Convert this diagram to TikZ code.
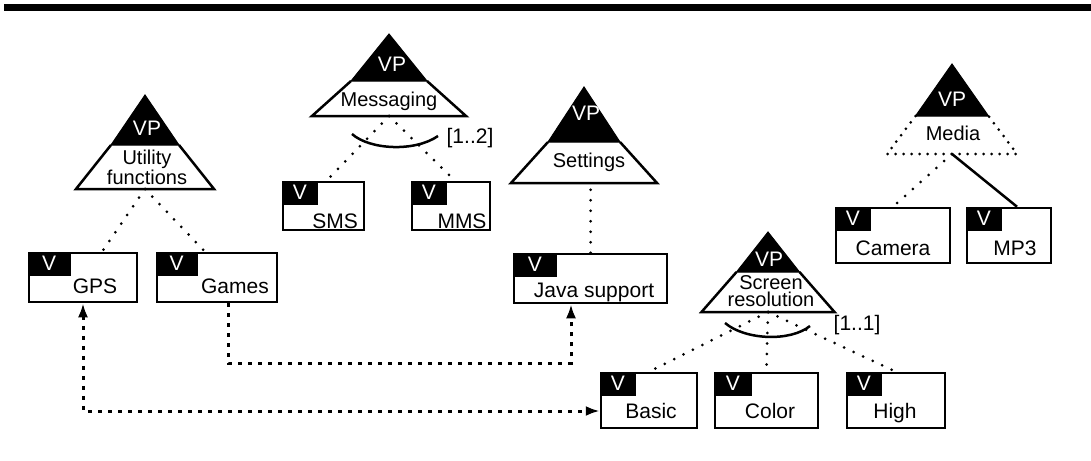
\documentclass[tikz,border=0pt]{standalone}
\usepackage{fontspec}
\setmainfont{Liberation Sans}
\usetikzlibrary{arrows.meta,calc,positioning}

\tikzset{
  varbox/.style={draw, line width=2.5pt, inner sep=0pt, fill=white},
  tagtext/.style={text=white, inner sep=0pt, font=\fontsize{21}{21}\selectfont},
  vname/.style={anchor=base, inner sep=0pt, font=\fontsize{21}{21}\selectfont},
  vptext/.style={text=white, inner sep=0pt, font=\fontsize{21}{21}\selectfont},
  vpname/.style={inner sep=0pt, align=center, font=\fontsize{20}{17}\selectfont},
  card/.style={inner sep=0pt, font=\fontsize{21}{21}\selectfont},
  vpline/.style={line width=2.5pt},
  vpdots/.style={line width=3pt, line cap=round, dash pattern=on 0pt off 8pt},
  dotline/.style={line width=3pt, line cap=round, dash pattern=on 0pt off 10.5pt},
  solidline/.style={line width=2.5pt},
  arcline/.style={line width=2.5pt},
  dep/.style={line width=3pt, dash pattern=on 4pt off 6pt},
}

% variant box: name, x, y, width, height, tag width
\newcommand{\variant}[6]{%
  \node[varbox, minimum width=#4pt, minimum height=#5pt] (#1) at (#2,#3) {};
  \fill (#1.north west) rectangle ([shift={(#6,24)}]#1.north west);
  \node[tagtext] at ([shift={(#6/2,12)}]#1.north west) {V};
}

% variation point: [outline], name, x, apex y, split y, split half, base y, base half
\newcommand{\vpshape}[8][vpline]{%
  \coordinate (#2) at (#3,#4);
  \coordinate (#2-b) at (#3,#7);
  \filldraw[line width=1pt] ({#3},{#4}) -- ({#3-#6},{#5}) -- ({#3+#6},{#5}) -- cycle;
  \draw[#1] ({#3-#6},{#5}) -- ({#3-#8},{#7}) -- ({#3+#8},{#7}) -- ({#3+#6},{#5});
}

\begin{document}
\begin{tikzpicture}[x=1pt, y=-1pt, >={Latex[length=14pt,width=10pt]}]
\useasboundingbox (0,0) rectangle (1091,460);
\fill (4,4) rectangle (1091,11);

% variation points
\vpshape{util}{145}{95}{145}{34}{189}{69}
\vpshape{msg}{389}{34}{81}{38}{116}{77}
\vpshape{set}{584}{87}{142}{36}{183}{73}
\vpshape[vpdots]{media}{952}{64}{116}{36.5}{154}{65}
\vpshape{scr}{768}{232}{272}{31.5}{312}{66.5}

\node[vptext] (util-vp) at (147,128) {VP};
\node[vptext] (msg-vp) at (392,64) {VP};
\node[vptext] (set-vp) at (586,113) {VP};
\node[vptext] (media-vp) at (952,99) {VP};
\node[vptext] (scr-vp) at (769,259) {VP};

\node[vpname] (util-name) at (147,167.5) {Utility\\functions};
\node[vpname] (msg-name) at (389,101) {Messaging};
\node[vpname] (set-name) at (589,162) {Settings};
\node[vpname] (media-name) at (953,133) {Media};
\node[vpname] (scr-name) at (771,291) {Screen\\resolution};

% variants
\variant{gps}{83}{277.5}{108}{49}{43}
\variant{games}{217}{277.5}{120}{49}{42}
\variant{sms}{323.5}{206}{81}{48}{36}
\variant{mms}{451}{206}{78}{48}{36}
\variant{java}{590.5}{278.5}{153}{49}{44}
\variant{cam}{893}{235.5}{114}{55}{36}
\variant{mp3}{1009}{235.5}{84}{55}{36}
\variant{basic}{649}{400.5}{96}{55}{36}
\variant{color}{766.5}{400.5}{103}{55}{38}
\variant{high}{896}{400.5}{98}{55}{36}

\node[vname] (gps-t) at (95,293) {GPS};
\node[vname] (games-t) at (235,293) {Games};
\node[vname] (sms-t) at (335,228) {SMS};
\node[vname] (mms-t) at (462,228) {MMS};
\node[vname] (java-t) at (594,297) {Java support};
\node[vname] (cam-t) at (893,255) {Camera};
\node[vname] (mp3-t) at (1015,255) {MP3};
\node[vname] (basic-t) at (651,418) {Basic};
\node[vname] (color-t) at (770,418) {Color};
\node[vname] (high-t) at (895,418) {High};

% variability dependencies
\draw[dotline] (util-b) -- ([xshift=19pt]gps.north);
\draw[dotline] (util-b) -- ([xshift=-12pt]games.north);
\draw[dotline] (msg-b) -- ([xshift=3pt]sms.north);
\draw[dotline] (msg-b) -- ([xshift=4pt]mms.north);
\draw[dotline] (java.north) -- (java.north |- set-b);
\draw[dotline] (media-b) -- (cam.north);
\draw[solidline] (media-b) -- ([xshift=8pt]mp3.north);
\draw[dotline] (scr-b) -- (basic.north);
\draw[dotline] (scr-b) -- (color.north);
\draw[dotline] (scr-b) -- (high.north);

% alternative choices
\draw[arcline] (352,134) .. controls (370,150) and (415,152) .. (438,136);
\node[card] (msg-card) at (470,138) {[1..2]};
\draw[arcline] (725,323) .. controls (745,340) and (790,342) .. (810,326);
\node[card] (scr-card) at (857,325) {[1..1]};

% constraints
\draw[dep, ->] ([xshift=11pt]games.south) -- ++(0,60) -| ([xshift=-19.5pt]java.south);
\draw[dep, <->] (gps.south) |- ([yshift=-10.5pt]basic.west);
\end{tikzpicture}
\end{document}
